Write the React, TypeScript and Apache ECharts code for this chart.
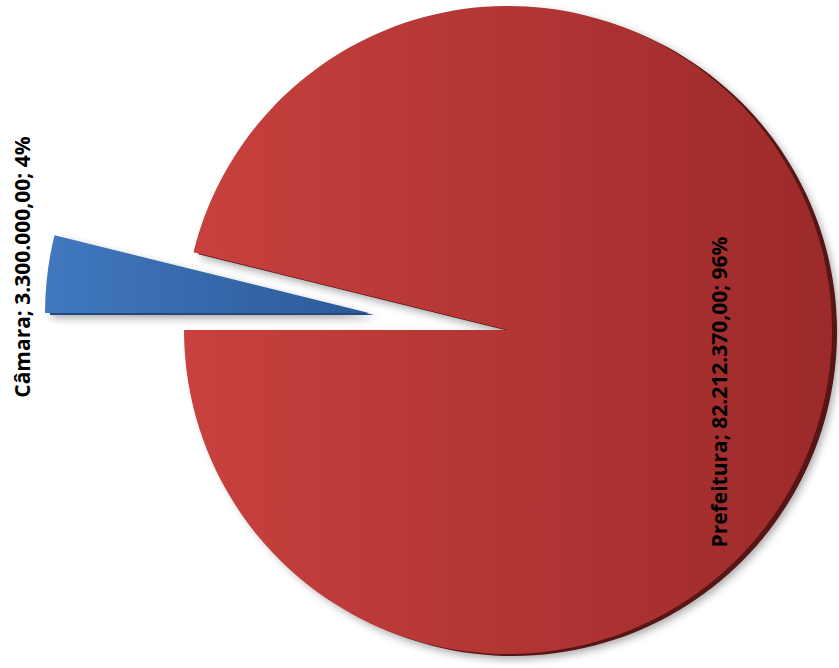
import React, { useEffect, useRef } from "react";
import * as echarts from "echarts";

const categories = ["Câmara", "Prefeitura"];
const values = [3300000.0, 82212370.0];
const sliceColors = [
  ["#4178BE", "#2B5A98"],
  ["#C8413E", "#9C2A2A"],
];
const rimColors = ["#24487C", "#561414"];

function fmtBR(v: number): string {
  const [i, d] = v.toFixed(2).split(".");
  return i.replace(/\B(?=(\d{3})+(?!\d))/g, ".") + "," + d;
}

const labelPos = [
  { x: 22, y: 267 },
  { x: 719, y: 392 },
];

export default function App() {
  const ref = useRef<HTMLDivElement>(null);
  useEffect(() => {
    if (!ref.current) return;
    const chart = echarts.init(ref.current, null, { renderer: "svg" });
    const center = [508, 330];
    const radius = 324;
    const offset = 140;
    const total = values.reduce((a, b) => a + b, 0);
    const labels = categories.map(
      (n, i) => `${n}; ${fmtBR(values[i])}; ${Math.round((values[i] / total) * 100)}%`
    );
    chart.setOption({
      animation: false,
      backgroundColor: "#ffffff",
      graphic: labels.map((t, i) => ({
        type: "text",
        x: labelPos[i].x,
        y: labelPos[i].y,
        rotation: Math.PI / 2,
        z: 100,
        style: {
          text: t,
          fill: "#000000",
          fontFamily: "Open Sans",
          fontWeight: "bold",
          fontSize: 21,
          align: "center",
          verticalAlign: "middle",
        },
      })),
      series: [
        {
          type: "pie",
          silent: true,
          center: [center[0] + 5, center[1] + 2],
          radius: radius,
          startAngle: 180,
          clockwise: true,
          selectedMode: "single",
          selectedOffset: offset,
          label: { show: false },
          labelLine: { show: false },
          z: 1,
          data: categories.map((n, i) => ({
            name: n,
            value: values[i],
            selected: i === 0,
            itemStyle: {
              color: rimColors[i],
              shadowColor: "rgba(0,0,0,0.35)",
              shadowBlur: 8,
              shadowOffsetX: 2,
              shadowOffsetY: 3,
            },
          })),
        },
        {
          type: "pie",
          center: center,
          radius: radius,
          startAngle: 180,
          clockwise: true,
          selectedMode: "single",
          selectedOffset: offset,
          z: 2,
          labelLine: { show: false },
          label: { show: false },
          data: categories.map((n, i) => ({
            name: n,
            value: values[i],
            selected: i === 0,
            itemStyle: {
              color: new echarts.graphic.LinearGradient(0, 0, 1, 0, [
                { offset: 0, color: sliceColors[i][0] },
                { offset: 1, color: sliceColors[i][1] },
              ]),
            },
          })),
        },
      ],
    });
    return () => chart.dispose();
  }, []);
  return (
    <div
      ref={ref}
      style={{ position: "fixed", left: 0, top: 0, width: 839, height: 668 }}
    />
  );
}
